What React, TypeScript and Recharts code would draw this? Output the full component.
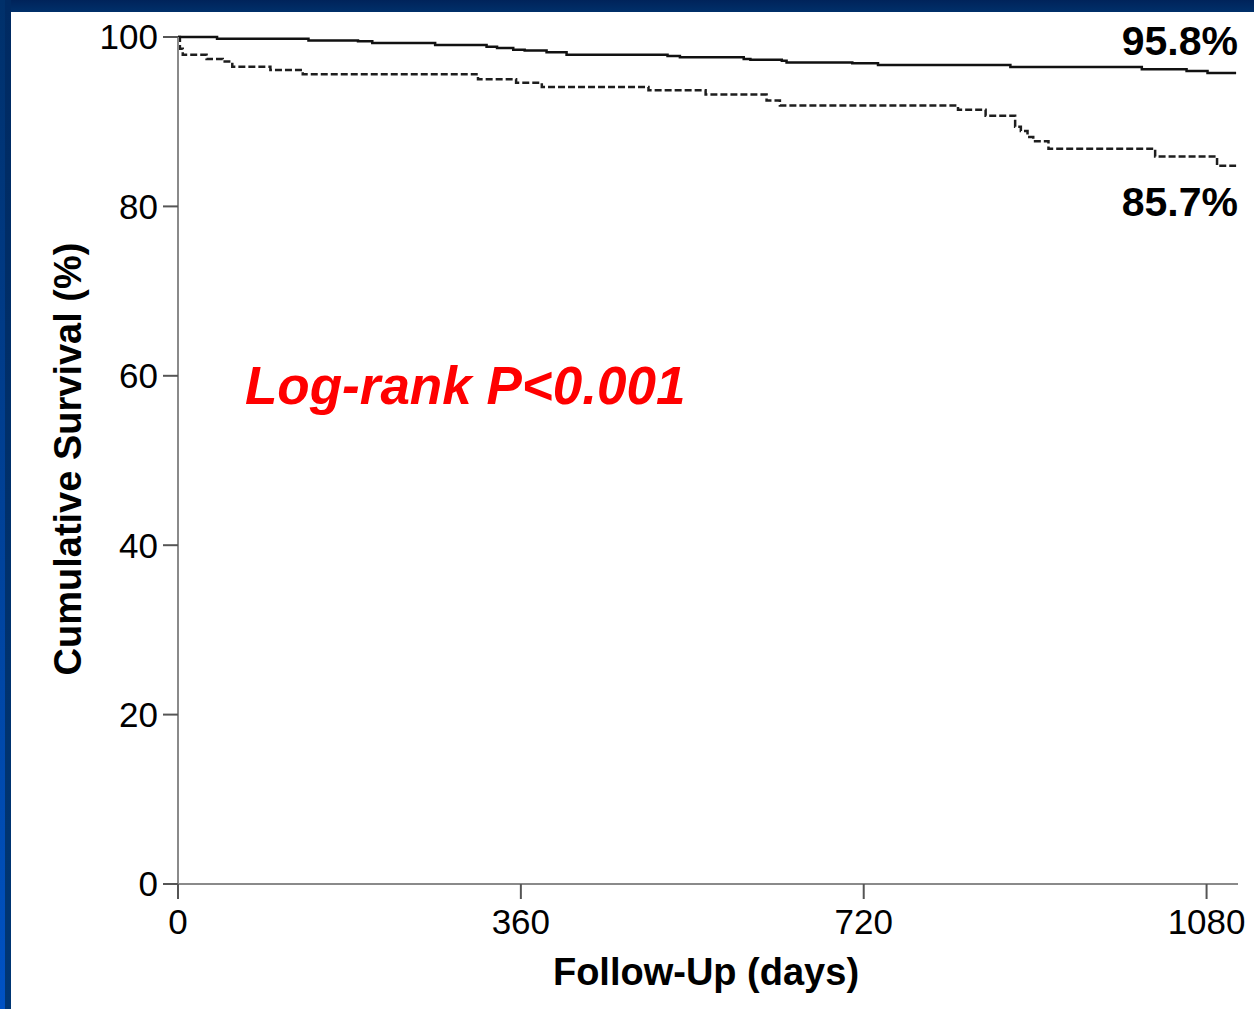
import { LineChart, Line, XAxis, YAxis } from 'recharts';

// Kaplan-Meier steps
const solidDays = [0, 41, 137, 189, 204, 270, 324, 335, 352, 364, 387, 408, 514, 527, 594, 601, 634, 639, 708, 735, 874, 1012, 1059, 1081, 1111];
const solidSurvival = [100, 99.8, 99.6, 99.5, 99.3, 99.05, 98.85, 98.7, 98.5, 98.4, 98.2, 97.9, 97.75, 97.6, 97.4, 97.3, 97.2, 97.0, 96.9, 96.7, 96.45, 96.2, 96.0, 95.75, 95.75];

const dashedDays = [0, 2, 5, 30, 47, 57, 97, 131, 315, 355, 382, 494, 554, 618, 632, 819, 848, 879, 885, 892, 898, 914, 1026, 1091, 1111];
const dashedSurvival = [100, 98.6, 97.9, 97.4, 97.1, 96.5, 96.1, 95.6, 95.0, 94.6, 94.1, 93.7, 93.2, 92.5, 91.9, 91.4, 90.7, 89.4, 88.9, 88.2, 87.7, 86.8, 85.9, 84.8, 84.8];

const xTicks = [0, 360, 720, 1080];
const yTicks = [0, 20, 40, 60, 80, 100];

const solidData = solidDays.map((day, i) => ({ day, value: solidSurvival[i] }));
const dashedData = dashedDays.map((day, i) => ({ day, value: dashedSurvival[i] }));

const font = '"Liberation Sans", Arial, Helvetica, sans-serif';

export default function App() {
  return (
    <div style={{ position: 'absolute', left: 0, top: 0, width: 1254, height: 1009, background: '#fff', overflow: 'hidden' }}>
      {/* blue slide frame */}
      <div style={{ position: 'absolute', left: 0, top: 0, width: 1254, height: 12, background: 'linear-gradient(to bottom, #00235a, #00306a)' }} />
      <div style={{ position: 'absolute', left: 0, top: 0, width: 5, height: 1009, background: 'linear-gradient(to bottom, #00306a, #0052c4)' }} />
      <div style={{ position: 'absolute', left: 5, top: 0, width: 6, height: 1009, background: 'linear-gradient(to bottom, #002a62, #003674)' }} />

      <div style={{ position: 'absolute', left: 0, top: 0 }}>
        <LineChart width={1254} height={1009} margin={{ top: 37, right: 16, bottom: 0, left: 0 }}>
          <XAxis
            type="number"
            dataKey="day"
            domain={[0, 1113]}
            ticks={xTicks}
            height={125}
            tickSize={15}
            tickMargin={10}
            axisLine={{ stroke: '#8a8a8a', strokeWidth: 2 }}
            tickLine={{ stroke: '#555', strokeWidth: 2 }}
            tick={{ fill: '#000', fontSize: 35, fontFamily: font }}
            allowDataOverflow
          />
          <YAxis
            type="number"
            domain={[0, 100]}
            ticks={yTicks}
            width={178}
            tickSize={15}
            tickMargin={5}
            axisLine={{ stroke: '#8a8a8a', strokeWidth: 2 }}
            tickLine={{ stroke: '#555', strokeWidth: 2 }}
            tick={{ fill: '#000', fontSize: 35, fontFamily: font }}
          />
          <Line
            data={dashedData}
            dataKey="value"
            type="stepAfter"
            stroke="#1e1e1e"
            strokeWidth={2.5}
            strokeDasharray="7 3"
            dot={false}
            activeDot={false}
            isAnimationActive={false}
          />
          <Line
            data={solidData}
            dataKey="value"
            type="stepAfter"
            stroke="#111"
            strokeWidth={2.5}
            dot={false}
            activeDot={false}
            isAnimationActive={false}
          />
          <text x={1238} y={55} textAnchor="end" fontSize={41} fontWeight="bold" fontFamily={font} fill="#000">95.8%</text>
          <text x={1238} y={216} textAnchor="end" fontSize={41} fontWeight="bold" fontFamily={font} fill="#000">85.7%</text>
          <text x={245} y={404} fontSize={53} fontWeight="bold" fontStyle="italic" fontFamily={font} fill="#ff0000">Log-rank P&lt;0.001</text>
          <text x={706} y={985} textAnchor="middle" fontSize={38} fontWeight="bold" fontFamily={font} fill="#000">Follow-Up (days)</text>
          <text x={81} y={459} transform="rotate(-90 81 459)" textAnchor="middle" fontSize={38} fontWeight="bold" fontFamily={font} fill="#000">Cumulative Survival (%)</text>
        </LineChart>
      </div>
    </div>
  );
}
